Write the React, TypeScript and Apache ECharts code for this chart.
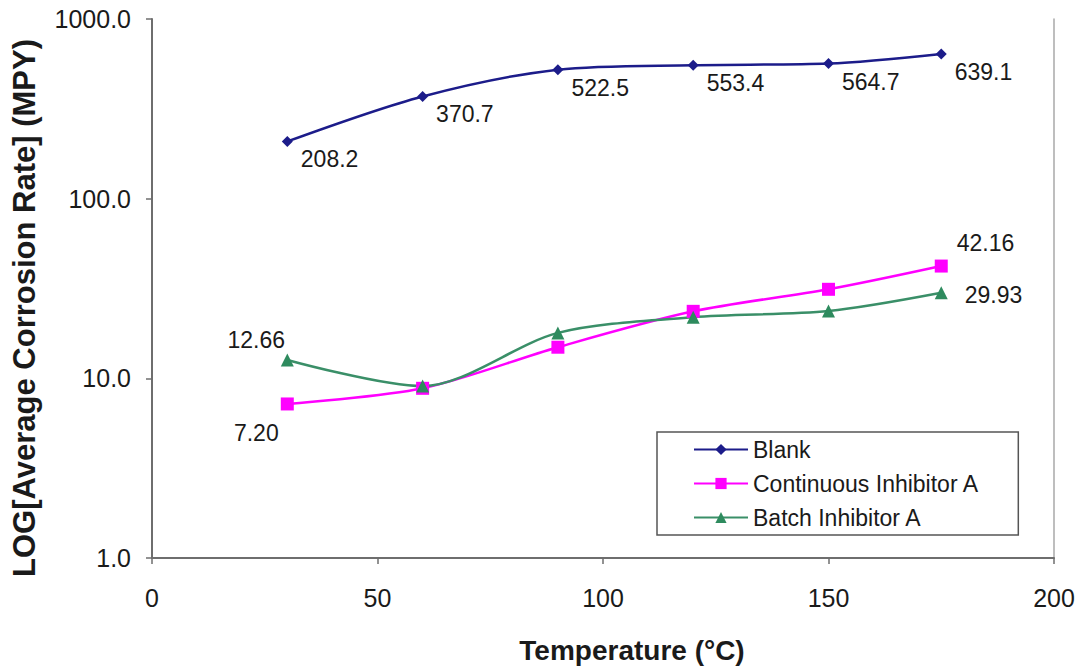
import React, { useEffect, useRef } from "react";
import * as echarts from "echarts";

const temps = [30, 60, 90, 120, 150, 175];
const blank = [208.2, 370.7, 522.5, 553.4, 564.7, 639.1];
const continuousA = [7.2, 8.8, 14.9, 23.6, 31.3, 42.16];
const batchA = [12.66, 9.05, 17.9, 21.9, 23.7, 29.93];
const xTicks = [0, 50, 100, 150, 200];
const xTitle = "Temperature (°C)";
const yTitle = "LOG[Average Corrosion Rate] (MPY)";

const FONT = "'Liberation Sans', Arial, sans-serif";

export default function App() {
  const ref = useRef<HTMLDivElement>(null);
  useEffect(() => {
    if (!ref.current) return;
    const chart = echarts.init(ref.current, undefined, { renderer: "svg" });
    const lblStyle = { fontSize: 23, color: "#1a1a1a", fontFamily: FONT };
    const blankData = temps.map((t, i) => [t, blank[i]]);
    const contData = temps.map((t, i) => {
      const d: any = { value: [t, continuousA[i]] };
      if (i === 0)
        d.label = { show: true, position: "bottom", distance: 5, offset: [-31, 6], formatter: continuousA[i].toFixed(2), ...lblStyle };
      if (i === temps.length - 1)
        d.label = { show: true, position: "right", distance: 9, offset: [0, -23], formatter: continuousA[i].toFixed(2), ...lblStyle };
      return d;
    });
    const batchData = temps.map((t, i) => {
      const d: any = { value: [t, batchA[i]] };
      if (i === 0)
        d.label = { show: true, position: "top", distance: 5, offset: [-31, 3], formatter: batchA[i].toFixed(2), ...lblStyle };
      if (i === temps.length - 1)
        d.label = { show: true, position: "right", distance: 17, offset: [0, 2], formatter: batchA[i].toFixed(2), ...lblStyle };
      return d;
    });
    chart.setOption({
      animation: false,
      backgroundColor: "#ffffff",
      textStyle: { fontFamily: FONT },
      grid: { left: 152, right: 27, top: 19, bottom: 109, containLabel: false },
      graphic: [
        {
          type: "text",
          x: 632,
          y: 650,
          style: {
            text: xTitle,
            fontSize: 28,
            fontWeight: "bold",
            fontFamily: FONT,
            fill: "#1a1a1a",
            align: "center",
            verticalAlign: "middle",
          },
        },
        {
          type: "text",
          x: 24,
          y: 308,
          rotation: Math.PI / 2,
          style: {
            text: yTitle,
            fontSize: 31,
            fontWeight: "bold",
            fontFamily: FONT,
            fill: "#1a1a1a",
            align: "center",
            verticalAlign: "middle",
          },
        },
      ],
      xAxis: {
        type: "value",
        min: xTicks[0],
        max: xTicks[xTicks.length - 1],
        interval: 50,
        axisLine: { lineStyle: { color: "#6e6e6e", width: 2 } },
        axisTick: { show: true, inside: false, length: 6, lineStyle: { color: "#6e6e6e", width: 1.5 } },
        axisLabel: { fontSize: 25, color: "#1a1a1a", margin: 27, fontFamily: FONT },
        splitLine: { show: false },
      },
      yAxis: [
        {
          type: "log",
          logBase: 10,
          min: 1,
          max: 1000,
          axisLine: { show: true, lineStyle: { color: "#6e6e6e", width: 2 } },
          axisTick: { show: true, inside: false, length: 6, lineStyle: { color: "#6e6e6e", width: 1.5 } },
          axisLabel: { fontSize: 25, color: "#1a1a1a", margin: 21, fontFamily: FONT, formatter: (v: number) => v.toFixed(1) },
          splitLine: { show: false },
        },
        {
          type: "log",
          logBase: 10,
          min: 1,
          max: 1000,
          position: "right",
          axisLine: { show: true, lineStyle: { color: "#a8a8a8", width: 1.5 } },
          axisTick: { show: false },
          axisLabel: { show: false },
          splitLine: { show: false },
        },
      ],
      legend: {
        orient: "vertical",
        left: 657,
        top: 432,
        padding: [6, 39, 6, 36],
        itemWidth: 54,
        itemHeight: 14,
        itemGap: 11,
        backgroundColor: "#ffffff",
        borderColor: "#555555",
        borderWidth: 1.5,
        textStyle: { fontSize: 23, color: "#1a1a1a", fontFamily: FONT },
        data: ["Blank", "Continuous Inhibitor A", "Batch Inhibitor A"],
      },
      series: [
        {
          name: "Blank",
          type: "line",
          smooth: 0.3,
          data: blankData,
          symbol: "diamond",
          symbolSize: 11,
          itemStyle: { color: "#1c1c8a" },
          lineStyle: { color: "#1c1c8a", width: 2.5 },
          label: {
            show: true,
            position: "right",
            distance: 8,
            offset: [0, 18],
            formatter: (p: any) => p.value[1].toFixed(1),
            ...lblStyle,
          },
        },
        {
          name: "Continuous Inhibitor A",
          type: "line",
          smooth: 0.3,
          data: contData,
          symbol: "rect",
          symbolSize: 13,
          itemStyle: { color: "#ff00ff" },
          lineStyle: { color: "#ff00ff", width: 2.5 },
          label: { show: false },
        },
        {
          name: "Batch Inhibitor A",
          type: "line",
          smooth: 0.3,
          data: batchData,
          symbol: "triangle",
          symbolSize: 13,
          itemStyle: { color: "#2e8b5e" },
          lineStyle: { color: "#3a8f68", width: 2.5 },
          label: { show: false },
        },
      ],
    });
    return () => chart.dispose();
  }, []);
  return <div ref={ref} style={{ width: 1081, height: 667, position: "absolute", left: 0, top: 0 }} />;
}
